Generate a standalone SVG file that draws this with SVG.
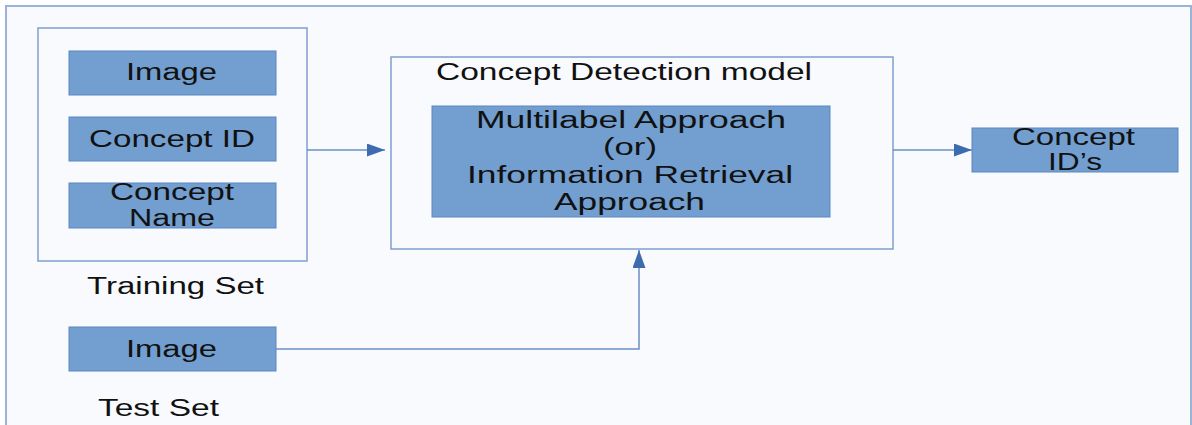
<svg xmlns="http://www.w3.org/2000/svg" width="1192" height="425" viewBox="0 0 1192 425">
  <style>
    .frame { fill: #f8fafd; stroke: #9ab3d9; stroke-width: 2; }
    .group { fill: #f8fafd; stroke: #7f9fcf; stroke-width: 1.5; }
    .box { fill: #729fcf; stroke: #5a86c3; stroke-width: 1; }
    .label { font-family: "Liberation Sans", Arial, sans-serif; font-size: 23px; fill: #111111; }
    .edge { fill: none; stroke: #6a8fc6; stroke-width: 1.5; }
  </style>
  <defs>
    <marker id="arrow" markerWidth="18" markerHeight="13" refX="18" refY="6.5" orient="auto" markerUnits="userSpaceOnUse">
      <path d="M0,0 L18,6.5 L0,13 Z" fill="#3d6cae"/>
    </marker>
  </defs>

  <rect width="1192" height="425" fill="#ffffff"/>
  <rect class="frame" x="6" y="6" width="1185" height="430"/>

  <g id="training-set">
    <rect class="group" x="38" y="28" width="269" height="233"/>
    <text class="label" x="87" y="294" textLength="177" lengthAdjust="spacingAndGlyphs">Training Set</text>
  </g>
  <g id="train-image">
    <rect class="box" x="69" y="51" width="207" height="44"/>
    <text class="label" x="126" y="80" textLength="91" lengthAdjust="spacingAndGlyphs">Image</text>
  </g>
  <g id="train-concept-id">
    <rect class="box" x="69" y="117" width="207" height="44"/>
    <text class="label" x="89" y="147" textLength="166" lengthAdjust="spacingAndGlyphs">Concept ID</text>
  </g>
  <g id="train-concept-name">
    <rect class="box" x="69" y="183" width="207" height="45"/>
    <text class="label" x="110" y="200" textLength="124" lengthAdjust="spacingAndGlyphs">Concept</text>
    <text class="label" x="129" y="226" textLength="86" lengthAdjust="spacingAndGlyphs">Name</text>
  </g>

  <g id="test-image">
    <rect class="box" x="69" y="327" width="207" height="44"/>
    <text class="label" x="126" y="357" textLength="91" lengthAdjust="spacingAndGlyphs">Image</text>
  </g>
  <g id="test-set-label">
    <text class="label" x="98" y="416" textLength="121" lengthAdjust="spacingAndGlyphs">Test Set</text>
  </g>

  <g id="concept-detection-model">
    <rect class="group" x="391" y="57" width="502" height="192"/>
    <text class="label" x="436" y="80" textLength="376" lengthAdjust="spacingAndGlyphs">Concept Detection model</text>
  </g>
  <g id="approach">
    <rect class="box" x="432" y="106" width="398" height="111"/>
    <text class="label" x="476" y="128" textLength="310" lengthAdjust="spacingAndGlyphs">Multilabel Approach</text>
    <text class="label" x="603" y="155" textLength="54" lengthAdjust="spacingAndGlyphs">(or)</text>
    <text class="label" x="467" y="183" textLength="326" lengthAdjust="spacingAndGlyphs">Information Retrieval</text>
    <text class="label" x="554" y="210" textLength="151" lengthAdjust="spacingAndGlyphs">Approach</text>
  </g>

  <g id="concept-ids">
    <rect class="box" x="972" y="128" width="206" height="44"/>
    <text class="label" x="1012" y="145" textLength="123" lengthAdjust="spacingAndGlyphs">Concept</text>
    <text class="label" x="1048" y="170" textLength="54" lengthAdjust="spacingAndGlyphs">ID’s</text>
  </g>

  <g id="connectors">
    <path class="edge" d="M307,150 H385" marker-end="url(#arrow)"/>
    <path class="edge" d="M893,150 H972" marker-end="url(#arrow)"/>
    <path class="edge" d="M276,349 H639 V250" marker-end="url(#arrow)"/>
  </g>
</svg>
